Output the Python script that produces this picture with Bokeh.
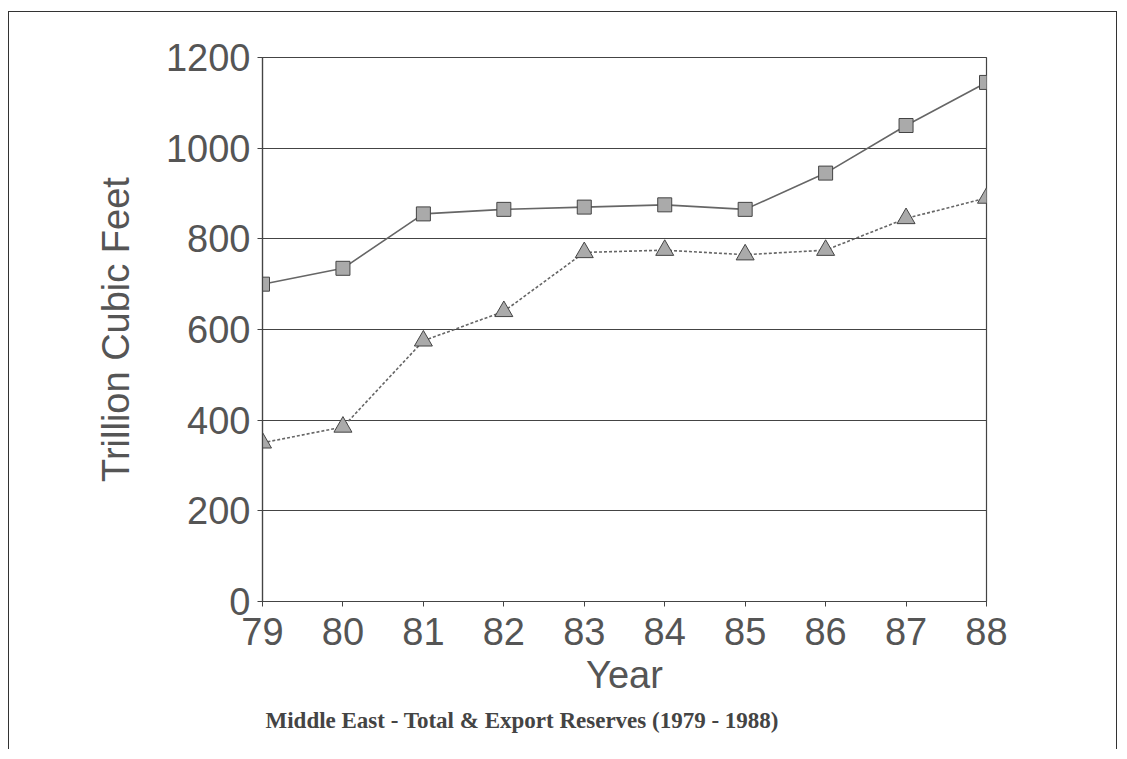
from bokeh.plotting import figure
from bokeh.models import FixedTicker, Title, InlineStyleSheet
from bokeh.embed import file_html
from bokeh.resources import INLINE

years = [79, 80, 81, 82, 83, 84, 85, 86, 87, 88]
total_reserves = [700, 735, 855, 865, 870, 875, 865, 945, 1050, 1145]
export_reserves = [350, 385, 575, 640, 770, 775, 765, 775, 845, 890]
y_ticks = [0, 200, 400, 600, 800, 1000, 1200]

TXT = "#555555"
LINE = "#444444"

p = figure(width=1111, height=743, output_backend="svg", toolbar_location=None,
           x_range=(79, 88), y_range=(0, 1200),
           min_border_left=262, min_border_right=125, min_border_top=57,
           min_border_bottom=142)

p.background_fill_color = "white"
p.border_fill_color = "white"
p.outline_line_color = LINE
p.outline_line_width = 1.2

p.xaxis.ticker = FixedTicker(ticks=years)
p.yaxis.ticker = FixedTicker(ticks=y_ticks)
for ax in (p.xaxis[0], p.yaxis[0]):
    ax.axis_line_color = LINE
    ax.axis_line_width = 1.2
    ax.major_tick_line_color = LINE
    ax.major_tick_in = 0
    ax.major_tick_out = 5
    ax.minor_tick_line_color = None
    ax.major_label_text_font = "Liberation Sans"
    ax.major_label_text_font_size = "38px"
    ax.major_label_text_color = TXT
    ax.axis_label_text_font = "Liberation Sans"
    ax.axis_label_text_font_size = "38px"
    ax.axis_label_text_font_style = "normal"
    ax.axis_label_text_color = TXT

p.xaxis.axis_label = "Year"
p.yaxis.axis_label = "Trillion Cubic Feet"
p.xaxis.major_label_standoff = 11
p.yaxis.major_label_standoff = 7
p.xaxis.axis_label_standoff = 6
p.yaxis.axis_label_standoff = 26

p.xgrid.grid_line_color = None
p.ygrid.grid_line_color = LINE
p.ygrid.grid_line_width = 1.1

p.line(years, total_reserves, line_color="#666666", line_width=1.6)
p.line(years, export_reserves, line_color="#666666", line_width=1.6, line_dash="3 2")
p.scatter(years, total_reserves, marker="square", size=14, fill_color="#aaaaaa",
          line_color="#444444", line_width=1)
p.scatter(years, export_reserves, marker="triangle", size=18, fill_color="#aaaaaa",
          line_color="#444444", line_width=1)

title = Title(text="Middle East - Total & Export Reserves (1979 - 1988)",
              align="left", offset=3, text_font="Liberation Serif",
              text_font_size="23px", text_font_style="bold", text_color="#444444",
              standoff=15)
p.add_layout(title, "below")

p.stylesheets = [InlineStyleSheet(css="""
:host { position: relative; }
:host::after {
  content: ""; position: absolute; left: 8px; top: 11px; right: -6px; bottom: -6px;
  border: 1.5px solid #333333; border-bottom: none; pointer-events: none;
}
""")]

open("out.html", "w").write(file_html(p, INLINE))
